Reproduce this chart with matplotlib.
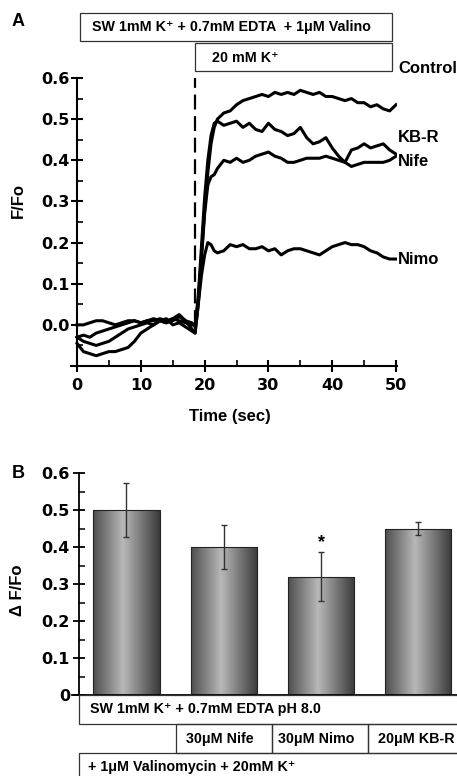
import numpy as np
import matplotlib
matplotlib.use("Agg")
import matplotlib.pyplot as plt
from matplotlib.colors import LinearSegmentedColormap
from matplotlib.patches import Rectangle
from matplotlib.ticker import MultipleLocator, FixedLocator, FormatStrFormatter

plt.rcParams['font.family'] = ['Liberation Sans', 'DejaVu Sans']
plt.rcParams['font.weight'] = 'bold'

# ---- panel A data (time in sec, F/Fo) ----
t = [0, 1, 2, 3, 4, 5, 6, 7, 8, 9, 10, 11, 12, 13, 14, 15, 16, 17, 18,
     18.5, 19, 19.5, 20, 20.5, 21, 21.5,
     22, 23, 24, 25, 26, 27, 28, 29, 30, 31, 32, 33, 34, 35, 36, 37, 38,
     39, 40, 41, 42, 43, 44, 45, 46, 47, 48, 49, 50]

control = [0.00, 0.00, 0.005, 0.01, 0.01, 0.005, 0.00, 0.005, 0.01, 0.01,
           0.005, 0.01, 0.01, 0.015, 0.01, 0.015, 0.01, 0.005, 0.00,
           0.00, 0.06, 0.17, 0.28, 0.37, 0.44, 0.48,
           0.50, 0.515, 0.52, 0.535, 0.545, 0.55, 0.555, 0.56, 0.555, 0.565,
           0.56, 0.565, 0.56, 0.57, 0.565, 0.56, 0.565, 0.555, 0.555, 0.55,
           0.545, 0.55, 0.54, 0.54, 0.53, 0.535, 0.525, 0.52, 0.535]

kbr = [-0.03, -0.025, -0.03, -0.02, -0.015, -0.01, -0.005, 0.00, 0.005,
       0.01, 0.005, 0.01, 0.015, 0.01, 0.005, 0.01, 0.02, 0.01, 0.005,
       -0.005, 0.07, 0.19, 0.31, 0.40, 0.46, 0.49,
       0.495, 0.485, 0.49, 0.495, 0.48, 0.49, 0.475, 0.47, 0.49, 0.475,
       0.47, 0.46, 0.465, 0.48, 0.455, 0.44, 0.445, 0.455, 0.43, 0.41,
       0.395, 0.425, 0.43, 0.44, 0.43, 0.435, 0.44, 0.425, 0.415]

nife = [-0.03, -0.04, -0.045, -0.05, -0.045, -0.04, -0.03, -0.02, -0.01,
        -0.005, 0.00, 0.005, 0.00, 0.01, 0.015, 0.00, 0.005, -0.005, -0.015,
        -0.02, 0.05, 0.16, 0.27, 0.34, 0.36, 0.365,
        0.38, 0.40, 0.395, 0.405, 0.395, 0.40, 0.41, 0.415, 0.42, 0.41,
        0.405, 0.395, 0.395, 0.40, 0.405, 0.405, 0.405, 0.41, 0.405, 0.40,
        0.395, 0.385, 0.39, 0.395, 0.395, 0.395, 0.395, 0.40, 0.41]

nimo = [-0.045, -0.065, -0.07, -0.075, -0.07, -0.065, -0.065, -0.06, -0.055,
        -0.04, -0.02, -0.01, 0.00, 0.01, 0.005, 0.015, 0.025, 0.01, -0.01,
        -0.02, 0.05, 0.12, 0.17, 0.20, 0.195, 0.18,
        0.175, 0.18, 0.195, 0.19, 0.195, 0.185, 0.185, 0.19, 0.18, 0.185,
        0.17, 0.18, 0.185, 0.185, 0.18, 0.175, 0.17, 0.18, 0.19, 0.195,
        0.20, 0.195, 0.195, 0.19, 0.18, 0.175, 0.165, 0.16, 0.16]

trace_names = ["Control", "KB-R", "Nife", "Nimo"]
label_y = [0.623, 0.455, 0.397, 0.158]
k_step = 18.5
yticks_A = [0.0, 0.1, 0.2, 0.3, 0.4, 0.5, 0.6]

# ---- panel B data ----
groups = ["Control", "Nife", "Nimo", "KB-R"]
delta = [0.50, 0.40, 0.32, 0.45]
delta_err = [0.072, 0.06, 0.067, 0.018]
table_row2 = ["30\u03bcM Nife", "30\u03bcM Nimo", "20\u03bcM KB-R"]

W, H = 457, 776
fig = plt.figure(figsize=(W / 100, H / 100), dpi=100)
tick_font = dict(family='DejaVu Sans', weight='bold', size=11.5)


def fy(py):
    return 1 - py / H


# ================= panel A =================
axA = fig.add_axes([71.3 / W, fy(366), (397 - 71.3) / W, (366 - 78) / H])
for y, name in zip([control, kbr, nife, nimo], trace_names):
    axA.plot(t, y, color='black', lw=2.2, solid_joinstyle='round')
for name, ly in zip(trace_names, label_y):
    axA.text(50.35, ly, name, fontsize=12, fontweight='bold', va='center',
             ha='left', clip_on=False)
axA.plot([k_step, k_step], [0.0, 0.6], color='black', lw=1.6,
         dashes=(6.7, 3))

axA.set_xlim(-0.9, 50.15)
axA.set_ylim(-0.1, 0.6)
axA.spines['top'].set_visible(False)
axA.spines['right'].set_visible(False)
axA.spines['left'].set_position(('data', 0))
axA.spines['left'].set_bounds(-0.1, 0.6)
for s in ['left', 'bottom']:
    axA.spines[s].set_linewidth(1.5)
axA.xaxis.set_major_locator(MultipleLocator(10))
axA.xaxis.set_minor_locator(MultipleLocator(5))
axA.yaxis.set_major_locator(FixedLocator(yticks_A))
axA.yaxis.set_minor_locator(MultipleLocator(0.05))
axA.yaxis.set_major_formatter(FormatStrFormatter('%.1f'))
axA.tick_params(which='major', direction='inout', length=9, width=1.5)
axA.tick_params(which='minor', direction='in', length=4, width=1.2)
axA.tick_params(axis='x', which='major', pad=4)
axA.tick_params(axis='y', which='major', pad=1)
for lab in axA.get_xticklabels() + axA.get_yticklabels():
    lab.set(**tick_font)

# ================= panel B =================
axB = fig.add_axes([72 / W, fy(695), (457 - 72) / W, (695 - 473) / H])
x = np.arange(len(groups))
bars = axB.bar(x, delta, width=0.68, facecolor='none', edgecolor='#222222',
               lw=0.8, zorder=3)
cmap = LinearSegmentedColormap.from_list(
    'bar', [(0, '#4e4e4e'), (0.45, '#b8b8b8'), (1, '#3a3a3a')])
grad = np.linspace(0, 1, 200)[None, :]
for p in bars:
    im = axB.imshow(grad, extent=[p.get_x(), p.get_x() + p.get_width(), 0,
                                  p.get_height()],
                    cmap=cmap, aspect='auto', zorder=2, interpolation='bilinear')
    im.set_clip_path(p)
axB.errorbar(x, delta, yerr=delta_err, fmt='none', ecolor='#333333',
             elinewidth=1, capsize=2.5, capthick=1, zorder=4)
axB.text(x[2], delta[2] + delta_err[2] + 0.003, '*', ha='center',
         va='bottom', fontsize=13, fontweight='bold')

axB.set_xlim(-0.56, 3.397)
axB.set_ylim(0, 0.6)
axB.spines['top'].set_visible(False)
axB.spines['right'].set_visible(False)
axB.spines['left'].set_position(('data', -0.488))
for s in ['left', 'bottom']:
    axB.spines[s].set_linewidth(1.3)
axB.set_xticks([])
axB.yaxis.set_major_locator(MultipleLocator(0.1))
axB.yaxis.set_minor_locator(MultipleLocator(0.05))
axB.yaxis.set_major_formatter(
    plt.FuncFormatter(lambda v, _: '0' if abs(v) < 1e-9 else '%.1f' % v))
axB.tick_params(which='major', direction='inout', length=9, width=1.3, pad=2)
axB.tick_params(which='minor', direction='in', length=4, width=1.1)
for lab in axB.get_yticklabels():
    lab.set(**tick_font)

# ================= boxes, labels (pixel overlay) =================
ov = fig.add_axes([0, 0, 1, 1], facecolor='none')
ov.set_xlim(0, W)
ov.set_ylim(H, 0)
ov.axis('off')

fs_box = 10.3
box_kw = dict(fill=False, edgecolor='#333333', lw=0.9)
ov.add_patch(Rectangle((80, 13), 312, 28, **box_kw))
ov.add_patch(Rectangle((195, 43), 197, 28, **box_kw))
ov.text(92, 27.5, "SW 1mM K\u207a + 0.7mM EDTA  + 1\u03bcM Valino",
        fontsize=fs_box, fontweight='bold', va='center', ha='left')
ov.text(212, 57.5, "20 mM K\u207a", fontsize=fs_box, fontweight='bold',
        va='center', ha='left')

ov.add_patch(Rectangle((79, 695), 400, 29, **box_kw))
cells = [176, 272, 368, 470]
centers = [220, 316, 416]
for i, lab in enumerate(table_row2):
    ov.add_patch(Rectangle((cells[i], 724), cells[i + 1] - cells[i], 29,
                           **box_kw))
    ov.text(centers[i], 738.5, lab, fontsize=fs_box, fontweight='bold',
            ha='center', va='center')
ov.add_patch(Rectangle((79, 753), 400, 40, **box_kw))
ov.text(90, 709.5, "SW 1mM K\u207a + 0.7mM EDTA pH 8.0", fontsize=fs_box,
        fontweight='bold', va='center', ha='left')
ov.text(88, 767, "+ 1\u03bcM Valinomycin + 20mM K\u207a", fontsize=fs_box,
        fontweight='bold', va='center', ha='left')

ov.text(12, 22, "A", fontsize=13, fontweight='bold', va='center')
ov.text(12, 473, "B", fontsize=13, fontweight='bold', va='center')
ov.text(18, 200, "F/Fo", fontsize=12, fontweight='bold', rotation=90,
        ha='center', va='center')
ov.text(230, 417, "Time (sec)", fontsize=12, fontweight='bold',
        ha='center', va='center')
ov.text(18, 590, "\u0394 F/Fo", fontsize=12, fontweight='bold', rotation=90,
        ha='center', va='center')

fig.savefig("out.png", dpi=100)
